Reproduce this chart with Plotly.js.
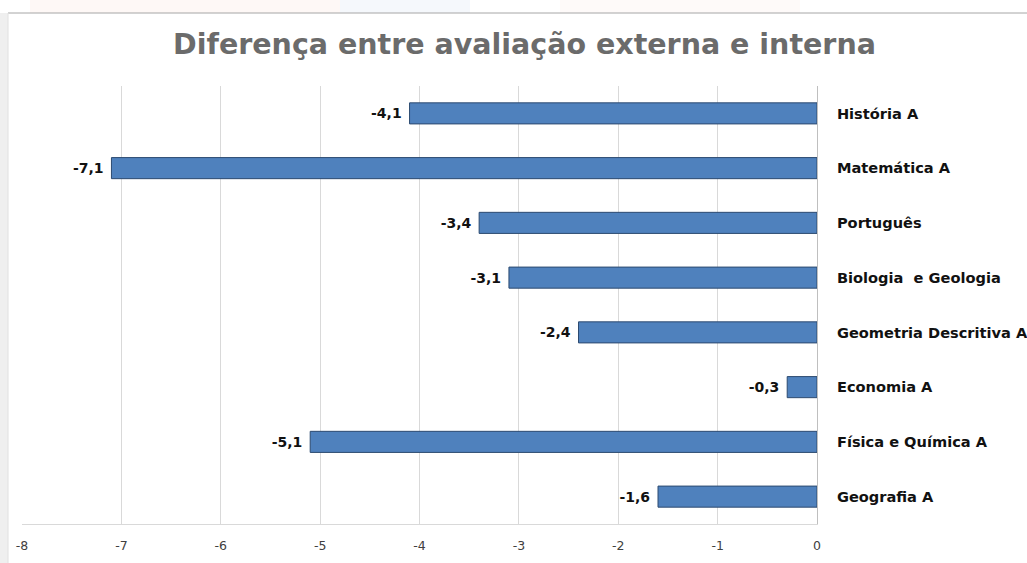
<!DOCTYPE html>
<html>
<head>
<meta charset="utf-8">
<script src="https://cdn.plot.ly/plotly-3.0.1.min.js"></script>
<style>
  html, body { margin: 0; padding: 0; background: #ffffff; }
  #chart { width: 1027px; height: 563px; }
</style>
</head>
<body>
<div id="chart"></div>
<script>
// Subjects, top to bottom
const disciplinas = [
  'História A',
  'Matemática A',
  'Português',
  'Biologia  e Geologia',
  'Geometria Descritiva A',
  'Economia A',
  'Física e Química A',
  'Geografia A'
];

// External minus internal grade
const diferencas = [-4.1, -7.1, -3.4, -3.1, -2.4, -0.3, -5.1, -1.6];

// X axis ticks
const xTicks = [-8, -7, -6, -5, -4, -3, -2, -1, 0];

// value labels with a decimal comma; trailing nbsp keeps them clear of the bar end
const rotulos = diferencas.map(v => v.toFixed(1).replace('.', ',') + '\u00a0');

const W = 1027, H = 563;
const M = { l: 22, r: 210, t: 86, b: 39 };
const pw = W - M.l - M.r, ph = H - M.t - M.b;
// pixel -> paper helpers for the frame decoration
const px = x => (x - M.l) / pw;
const py = y => (H - M.b - y) / ph;

const trace = {
  type: 'bar',
  orientation: 'h',
  x: diferencas,
  y: disciplinas,
  marker: { color: '#4f81bd', line: { color: '#2c4a70', width: 1 } },
  text: rotulos,
  textposition: 'outside',
  cliponaxis: false,
  textfont: { family: 'DejaVu Sans, sans-serif', size: 14, color: '#111111', weight: 700 },
  hoverinfo: 'skip'
};

const layout = {
  width: W,
  height: H,
  margin: M,
  paper_bgcolor: 'rgba(0,0,0,0)',
  plot_bgcolor: 'rgba(0,0,0,0)',
  showlegend: false,
  bargap: 0.615,
  title: {
    text: 'Diferença entre avaliação externa e interna',
    font: { family: 'DejaVu Sans, sans-serif', size: 28.5, color: '#6b6b6b', weight: 700 },
    x: 524.5 / W,
    xref: 'container',
    xanchor: 'center',
    y: 1 - 44 / H,
    yref: 'container',
    yanchor: 'middle'
  },
  xaxis: {
    range: [-8, 0],
    tickvals: xTicks,
    ticktext: xTicks.map(String),
    showgrid: true,
    gridcolor: '#d9d9d9',
    gridwidth: 1,
    zeroline: false,
    showline: true,
    linecolor: '#d9d9d9',
    linewidth: 1,
    ticks: '',
    ticklabelstandoff: 10,
    tickfont: { family: 'DejaVu Sans, sans-serif', size: 12.5, color: '#404040' },
    fixedrange: true
  },
  yaxis: {
    side: 'right',
    autorange: 'reversed',
    showgrid: false,
    zeroline: false,
    showline: true,
    linecolor: '#bfbfbf',
    linewidth: 1,
    ticks: '',
    ticklabelstandoff: 16,
    tickfont: { family: 'DejaVu Sans, sans-serif', size: 14.6, color: '#111111', weight: 700 },
    fixedrange: true
  },
  shapes: [
    // faint backdrop strip above the chart frame
    { type: 'rect', xref: 'paper', yref: 'paper', x0: px(30), x1: px(340), y0: py(13), y1: py(0),
      fillcolor: 'rgba(236,150,130,0.07)', line: { width: 0 }, layer: 'below' },
    { type: 'rect', xref: 'paper', yref: 'paper', x0: px(340), x1: px(470), y0: py(13), y1: py(0),
      fillcolor: 'rgba(120,150,210,0.07)', line: { width: 0 }, layer: 'below' },
    { type: 'rect', xref: 'paper', yref: 'paper', x0: px(560), x1: px(800), y0: py(13), y1: py(0),
      fillcolor: 'rgba(236,150,130,0.05)', line: { width: 0 }, layer: 'below' },
    // left shadow of the frame
    { type: 'rect', xref: 'paper', yref: 'paper', x0: px(0), x1: px(8), y0: py(H), y1: py(13),
      fillcolor: '#efefef', line: { width: 0 }, layer: 'below' },
    // frame edges
    { type: 'line', xref: 'paper', yref: 'paper', x0: px(8), x1: px(W), y0: py(13), y1: py(13),
      line: { color: '#a6a6a6', width: 1 } },
    { type: 'line', xref: 'paper', yref: 'paper', x0: px(8), x1: px(8), y0: py(13), y1: py(H),
      line: { color: '#e0e0e0', width: 1 } }
  ]
};

Plotly.newPlot('chart', [trace], layout, { staticPlot: true, displayModeBar: false });
</script>
</body>
</html>
